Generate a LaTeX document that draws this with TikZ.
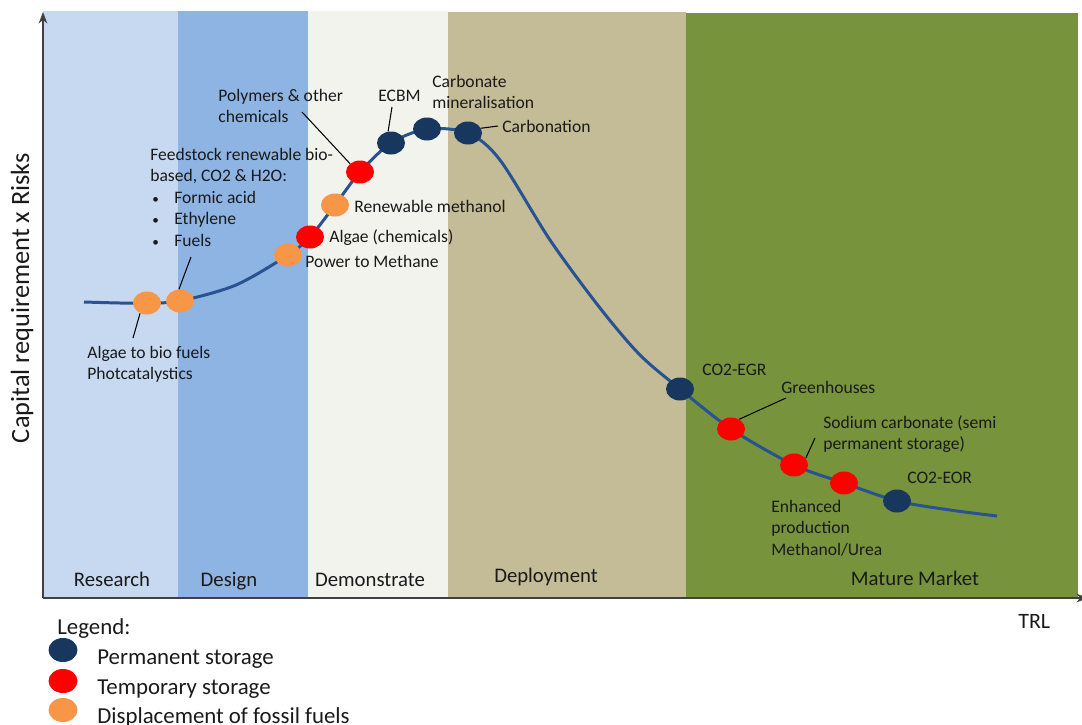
\documentclass[tikz,border=0pt]{standalone}
\usepackage{fontspec}
\usepackage{graphicx}
\setmainfont{Carlito}
\usetikzlibrary{shapes.geometric,arrows.meta}

\definecolor{researchBlue}{HTML}{C6D9F1}
\definecolor{designBlue}{HTML}{8EB4E3}
\definecolor{demoWhite}{HTML}{F3F3EE}
\definecolor{deployTan}{HTML}{C4BC96}
\definecolor{matureGreen}{HTML}{77933C}
\definecolor{curveBlue}{RGB}{40,82,145}
\definecolor{permNavy}{HTML}{17375E}
\definecolor{tempRed}{HTML}{FF0000}
\definecolor{fossOrange}{HTML}{F79646}
\definecolor{inkGray}{HTML}{1A1A1A}

\newcommand{\bulletitem}{\makebox[0.48cm][l]{\hspace{0.04cm}\scalebox{0.75}{•}}}

\begin{document}
\begin{tikzpicture}[%
	    x=0.02cm, y=-0.02cm,
	    >=Stealth,
	    dot/.style={ellipse, draw=none, minimum width=0.56cm, minimum height=0.46cm, inner sep=0pt},
	    permdot/.style={dot, fill=permNavy},
	    tempdot/.style={dot, fill=tempRed},
	    fossdot/.style={dot, fill=fossOrange},
	    lbl/.style={anchor=base west, inner sep=0pt, align=left, text=inkGray, font=\fontsize{10}{12.2}\selectfont},
	    multilbl/.style={lbl, anchor=north west},
	    phase/.style={anchor=base, inner sep=0pt, text=inkGray, font=\fontsize{11.8}{14}\selectfont},
	    legendtext/.style={anchor=base west, inner sep=0pt, text=inkGray, font=\fontsize{13}{15}\selectfont},
	    leader/.style={draw=black, line width=0.6pt},
	    axis/.style={draw=black!75, line width=0.8pt}
	  ]

  \useasboundingbox (0,0) rectangle (1082,724);

  % phase bands
  \fill[researchBlue] (43,11) rectangle (178,598);
  \fill[designBlue]   (178,11) rectangle (308,598);
  \fill[demoWhite]    (308,11) rectangle (448,598);
  \fill[deployTan]    (448,12) rectangle (686,598);
  \fill[matureGreen]  (686,13) rectangle (1078,598);

  \node[phase] (research) at (112,586) {Research};
  \node[phase] (design)   at (229,586) {Design};
  \node[phase] (demo)     at (370,586) {Demonstrate};
  \node[phase] (deploy)   at (546,582) {Deployment};
  \node[phase] (mature)   at (915,585) {Mature Market};

  % axes
  \draw[axis,->] (43,598) -- (43,12);
  \draw[axis,->] (43,598) -- (1088,598);
  \node[rotate=90, inner sep=0pt, text=inkGray, font=\fontsize{15}{17}\selectfont] (ylabel) at (22,298) {Capital requirement x Risks};
  \node[legendtext, font=\fontsize{12.5}{14}\selectfont] (trl) at (1018,628) {TRL};

  % curve
  \draw[curveBlue, line width=1.7pt] plot[smooth] coordinates {
      (84,302) (120,303) (147,303) (180,301) (236,285) (288,255)
      (310,237) (335,205) (360,172) (391,143) (427,129) (468,133) (500,160)
      (550,240) (600,308) (640,355) (680,389) (731,429) (794,465) (844,483)
      (897,501) (950,510) (997,516)};

  % storage points
  \node[fossdot] (algaeFuel) at (147,303) {};
  \node[fossdot] (feedstock) at (180,301) {};
  \node[fossdot] (power)     at (288,255) {};
  \node[tempdot] (algaeChem) at (310,237) {};
  \node[fossdot] (renMeth)   at (335,205) {};
  \node[tempdot] (polymers)  at (360,172) {};
  \node[permdot] (ecbm)      at (391,143) {};
  \node[permdot] (carbMin)   at (427,129) {};
  \node[permdot] (carbon)    at (468,133) {};
  \node[permdot] (egr)       at (680,389) {};
  \node[tempdot] (greenh)    at (731,429) {};
  \node[tempdot] (sodium)    at (794,465) {};
  \node[tempdot] (enhanced)  at (844,483) {};
  \node[permdot] (eor)       at (897,501) {};

  % labels
  \node[multilbl] (algaeFuelLbl) at (87,346) {Algae to bio fuels\\Photcatalystics};
  \node[multilbl] (feedLbl) at (150,148) {Feedstock renewable bio-\\based, CO2 \& H2O:\\
      \bulletitem Formic acid\\
      \bulletitem Ethylene\\
      \bulletitem Fuels};
  \node[multilbl] (polyLbl)  at (218,89) {Polymers \& other\\chemicals};
  \node[lbl] (renMethLbl)    at (354,212) {Renewable methanol};
  \node[lbl] (algaeChemLbl)  at (329,242) {Algae (chemicals)};
  \node[lbl] (powerLbl)      at (305,267) {Power to Methane};
  \node[lbl] (ecbmLbl)       at (378,101) {ECBM};
  \node[multilbl] (carbMinLbl) at (432,75) {Carbonate\\mineralisation};
  \node[lbl] (carbonLbl)     at (502,132) {Carbonation};
  \node[lbl] (egrLbl)        at (702,375) {CO2-EGR};
  \node[lbl] (greenhLbl)     at (781,393) {Greenhouses};
  \node[multilbl] (sodiumLbl) at (823,415) {Sodium carbonate (semi\\permanent storage)};
  \node[multilbl] (enhancedLbl) at (771,500) {Enhanced\\production\\Methanol/Urea};
  \node[lbl] (eorLbl)        at (907,483) {CO2-EOR};

  % leader lines
  \coordinate (algaeFuelEnd) at (133,338);
  \coordinate (feedEnd)      at (191,257);
  \coordinate (polyEnd)      at (302,112);
  \coordinate (ecbmEnd)      at (392,107);
  \coordinate (carbonEnd)    at (498,126);
  \coordinate (greenhEnd)    at (786,398);
  \coordinate (sodiumEnd)    at (815,438);

  \path[leader]
      (algaeFuelEnd) edge (algaeFuel.236)
      (feedEnd)      edge (feedstock.95)
      (polyEnd)      edge (polymers.140)
      (ecbmEnd)      edge (ecbm.104)
      (carbonEnd)    edge (carbon.20)
      (greenhEnd)    edge (greenh.50)
      (sodiumEnd)    edge (sodium.30);

  % legend
  \node[legendtext] (legendTitle) at (57,634) {Legend:};
  \node[permdot, minimum width=0.58cm, minimum height=0.48cm] (legPerm) at (63,650) {};
  \node[tempdot, minimum width=0.58cm, minimum height=0.48cm] (legTemp) at (63,681) {};
  \node[fossdot, minimum width=0.58cm, minimum height=0.48cm] (legFoss) at (63,710) {};
  \node[legendtext] (legPermLbl) at (97,664) {Permanent storage};
  \node[legendtext] (legTempLbl) at (97,694) {Temporary storage};
  \node[legendtext] (legFossLbl) at (97,723) {Displacement of fossil fuels};

\end{tikzpicture}
\end{document}
